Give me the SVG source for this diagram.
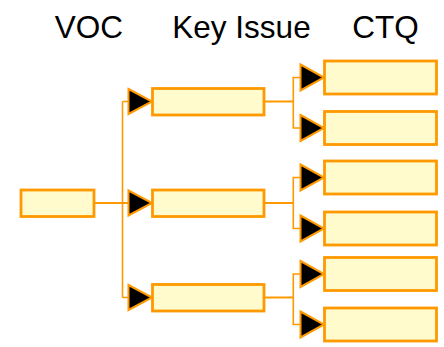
<svg xmlns="http://www.w3.org/2000/svg" width="444" height="347" viewBox="0 0 444 347">
  <style>
    .box { fill: #FFFBCC; stroke: #FF9900; stroke-width: 2.8; }
    .wire { fill: none; stroke: #FF9900; stroke-width: 2; }
    .branch { fill: none; stroke: #FF9900; stroke-width: 1.6; }
    .head { fill: #000000; stroke: #FF9900; stroke-width: 2; stroke-linejoin: miter; }
    .title { font-family: "Liberation Sans", Arial, sans-serif; font-size: 31.5px; fill: #000000; text-anchor: middle; }
  </style>
  <defs>
    <!-- arrowhead: tip at origin, pointing right -->
    <polygon id="headS" class="head" points="-23.5,-12.5 0,0 -23.5,12.5"/>
    <polygon id="headL" class="head" points="-23.5,-13 0,0 -23.5,13"/>
  </defs>

  <!-- column titles -->
  <g id="titles">
    <text class="title" x="89" y="38">VOC</text>
    <text class="title" x="241.5" y="38">Key Issue</text>
    <text class="title" x="385.5" y="38">CTQ</text>
  </g>

  <!-- connectors -->
  <g id="connectors">
    <!-- VOC to key issues -->
    <path class="wire" d="M94 203 H128.5"/>
    <path class="branch" d="M122.5 101.5 V297.5"/>
    <path class="branch" d="M122.5 101.5 H128.5 M122.5 297.5 H128.5"/>
    <!-- key issues to CTQs -->
    <path class="wire" d="M264 101.5 H293.3 M264 203 H293.3 M264 297.5 H293.3"/>
    <path class="branch" d="M300.5 77.5 H293.3 V128 H300.5"/>
    <path class="branch" d="M300.5 177.5 H293.3 V228.5 H300.5"/>
    <path class="branch" d="M300.5 274 H293.3 V324.5 H300.5"/>
    <!-- arrowheads -->
    <use href="#headS" x="152" y="101.5"/>
    <use href="#headS" x="152" y="203"/>
    <use href="#headS" x="152" y="297.5"/>
    <use href="#headL" x="324" y="77.5"/>
    <use href="#headL" x="324" y="128"/>
    <use href="#headL" x="324" y="177.5"/>
    <use href="#headL" x="324" y="228.5"/>
    <use href="#headL" x="324" y="274"/>
    <use href="#headL" x="324" y="324.5"/>
  </g>

  <!-- VOC -->
  <g id="voc"><rect class="box" x="21" y="190" width="73" height="26.5"/></g>

  <!-- key issues -->
  <g id="issue1"><rect class="box" x="152.5" y="88.5" width="111.5" height="26.5"/></g>
  <g id="issue2"><rect class="box" x="152.5" y="190" width="111.5" height="26.5"/></g>
  <g id="issue3"><rect class="box" x="152.5" y="284.5" width="111.5" height="26.5"/></g>

  <!-- CTQs -->
  <g id="ctq1"><rect class="box" x="324.5" y="61" width="112" height="33"/></g>
  <g id="ctq2"><rect class="box" x="324.5" y="111.5" width="112" height="33"/></g>
  <g id="ctq3"><rect class="box" x="324.5" y="161" width="112" height="33"/></g>
  <g id="ctq4"><rect class="box" x="324.5" y="212" width="112" height="33"/></g>
  <g id="ctq5"><rect class="box" x="324.5" y="257.5" width="112" height="33"/></g>
  <g id="ctq6"><rect class="box" x="324.5" y="308" width="112" height="33"/></g>
</svg>
